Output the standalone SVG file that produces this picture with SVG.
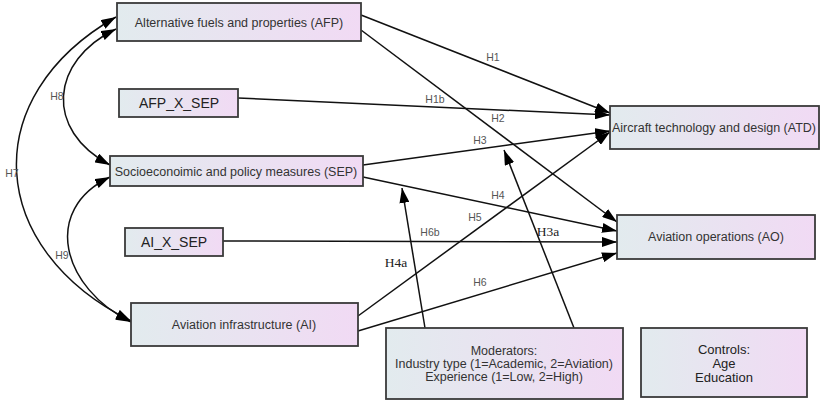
<svg xmlns="http://www.w3.org/2000/svg" width="821" height="402" viewBox="0 0 821 402">
<defs>
<linearGradient id="g" x1="0" y1="0" x2="1" y2="0">
<stop offset="0" stop-color="#e2ebee"/>
<stop offset="1" stop-color="#f1daf4"/>
</linearGradient>
<marker id="ah" viewBox="0 0 15 10" refX="15" refY="5" markerWidth="15" markerHeight="10" markerUnits="userSpaceOnUse" orient="auto-start-reverse">
<path d="M0,0 L15,5 L0,10 z" fill="#000"/>
</marker>
<style>
.box{fill:url(#g);stroke:#3a3a3a;stroke-width:1.8}
.t{font-family:"Liberation Sans",Arial,sans-serif;font-size:12.5px;fill:#333;text-anchor:middle}
.tb{font-family:"Liberation Sans",Arial,sans-serif;font-size:14px;fill:#222;text-anchor:middle}
.c{fill:none;stroke:#111;stroke-width:1.5}
.a{marker-end:url(#ah)}
.d{marker-start:url(#ah);marker-end:url(#ah)}
.lb{font-family:"Liberation Sans",Arial,sans-serif;font-size:10.5px;fill:#555;text-anchor:middle}
.ls{font-family:"Liberation Serif","Times New Roman",serif;font-size:13.5px;fill:#222;text-anchor:middle}
</style>
</defs>
<rect width="821" height="402" fill="#fff"/>
<g id="connectors">
<path class="c d" d="M131,321 C-14,249 -24,97 116,17"/>
<path class="c d" d="M116,29 C50,61 44,130 110,165"/>
<path class="c d" d="M110,177 C41,210 62,288 131,322"/>
<path class="c a" d="M361,15 L610,113"/>
<path class="c a" d="M238,98 L610,115"/>
<path class="c a" d="M361,30 L617,222"/>
<path class="c a" d="M363,165 L610,131"/>
<path class="c a" d="M363,177 L617,231"/>
<path class="c a" d="M358,316 L610,132"/>
<path class="c a" d="M223,241 L617,242"/>
<path class="c a" d="M358,331 L617,253"/>
<path class="c a" d="M574,328 L504,150"/>
<path class="c a" d="M425,328 L402,188"/>
<text class="lb" x="12" y="177">H7</text>
<text class="lb" x="57" y="100">H8</text>
<text class="lb" x="62" y="259">H9</text>
<text class="lb" x="493" y="61">H1</text>
<text class="lb" x="435" y="103">H1b</text>
<text class="lb" x="498" y="122">H2</text>
<text class="lb" x="480" y="144">H3</text>
<text class="lb" x="498" y="199">H4</text>
<text class="lb" x="475" y="221">H5</text>
<text class="lb" x="430" y="236">H6b</text>
<text class="lb" x="480" y="286">H6</text>
<text class="ls" x="548" y="236">H3a</text>
<text class="ls" x="396" y="267">H4a</text>
</g>
<g id="AFP"><rect class="box" x="117" y="3" width="244" height="38"/><text class="t" x="239" y="27">Alternative fuels and properties (AFP)</text></g>
<g id="AFP_X_SEP"><rect class="box" x="119" y="89" width="119" height="28"/><text class="tb" x="179" y="108">AFP_X_SEP</text></g>
<g id="SEP"><rect class="box" x="110" y="156" width="253" height="30"/><text class="t" x="236" y="176">Socioeconoimic and policy measures (SEP)</text></g>
<g id="AI_X_SEP"><rect class="box" x="125" y="228" width="98" height="28"/><text class="tb" x="174" y="247">AI_X_SEP</text></g>
<g id="AI"><rect class="box" x="131" y="303" width="227" height="43"/><text class="t" x="244" y="329">Aviation infrastructure (AI)</text></g>
<g id="ATD"><rect class="box" x="610" y="106" width="209" height="43"/><text class="t" x="714" y="132">Aircraft technology and design (ATD)</text></g>
<g id="AO"><rect class="box" x="617" y="215" width="198" height="44"/><text class="t" x="716" y="241">Aviation operations (AO)</text></g>
<g id="Moderators"><rect class="box" x="386" y="328" width="237" height="71"/>
<text class="t" x="504" y="355" style="font-size:12.5px">Moderators:</text>
<text class="t" x="504" y="368" style="font-size:12.5px">Industry type (1=Academic, 2=Aviation)</text>
<text class="t" x="504" y="381" style="font-size:12.5px">Experience (1=Low, 2=High)</text></g>
<g id="Controls"><rect class="box" x="641" y="328" width="166" height="69"/>
<text class="tb" x="724" y="354" style="font-size:13px">Controls:</text>
<text class="tb" x="724" y="368" style="font-size:13px">Age</text>
<text class="tb" x="724" y="382" style="font-size:13px">Education</text></g>
</svg>
